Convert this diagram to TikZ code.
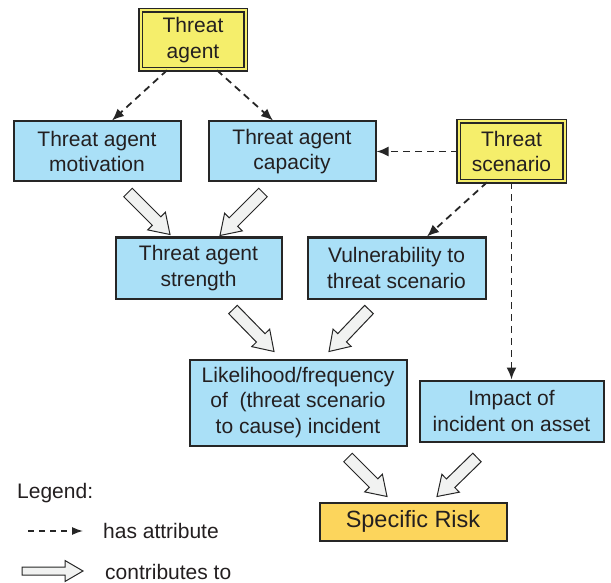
\documentclass[tikz,border=0pt]{standalone}
\usepackage{fontspec}
\setmainfont{Liberation Sans}
\usetikzlibrary{calc,arrows.meta}
\definecolor{boxblue}{HTML}{AAE0F7}
\definecolor{agentyellow}{HTML}{F5EE6B}
\definecolor{riskgold}{HTML}{FCD55C}
\definecolor{linegray}{HTML}{262626}
\definecolor{arrowfill}{HTML}{F1F2F1}
\definecolor{txt}{HTML}{231F20}
\newcommand\blockarrow[5]{%
  \coordinate (ba-n) at ($(#2)!#5pt!(#1)$);
  \draw[blockstyle] ($(#1)!#3pt!90:(#2)$) -- ($(ba-n)!#3pt!90:(#2)$) -- ($(ba-n)!#4pt!90:(#2)$) -- (#2) -- ($(ba-n)!#4pt!-90:(#2)$) -- ($(ba-n)!#3pt!-90:(#2)$) -- ($(#1)!#3pt!-90:(#2)$) -- cycle;}
\tikzset{
  basefont/.style={font=\fontsize{21}{25.5}\selectfont, text=txt},
  box/.style={basefont, draw=linegray, line width=2pt, fill=boxblue, align=center, inner sep=0pt},
  dbox/.style={basefont, draw=linegray, double=agentyellow, double distance=2pt, line width=1.6pt, fill=agentyellow, align=center, inner sep=0pt},
  riskbox/.style={draw=linegray, line width=2pt, fill=riskgold, align=center, inner sep=0pt, font=\fontsize{23.5}{28}\selectfont, text=txt},
  attr/.style={draw=linegray, line width=1.8pt, dash pattern=on 7pt off 5pt, -{Latex[length=12pt,width=10pt]}},
  blockstyle/.style={draw=linegray, line width=1pt, fill=arrowfill, line join=miter},
  legtext/.style={basefont, anchor=west, inner sep=0pt}
}
\begin{document}
\begin{tikzpicture}[x=1pt, y=-1pt]
\useasboundingbox (0,0) rectangle (611,583);
% nodes
\node[dbox, minimum width=105, minimum height=59] (agent) at (193,40) {Threat\\agent};
\node[box, minimum width=167, minimum height=60] (mot) at (97,151.5) {Threat agent\\motivation};
\node[box, minimum width=167, minimum height=60] (cap) at (292,151.5) {Threat agent\\capacity};
\node[dbox, minimum width=106, minimum height=60] (scen) at (511.5,151.5) {Threat\\scenario};
\node[box, minimum width=166, minimum height=61] (str) at (198.5,268) {Threat agent\\strength};
\node[box, minimum width=178, minimum height=61] (vul) at (396.5,268) {Vulnerability to\\threat scenario};
\node[box, minimum width=217, minimum height=86] (lik) at (298,402.5) {Likelihood/frequency\\of\ \ (threat scenario\\to cause) incident};
\node[box, minimum width=184, minimum height=61] (imp) at (511.5,411) {Impact of\\incident on asset};
\node[riskbox, minimum width=187, minimum height=38] (risk) at (413,521.5) {Specific Risk};
% dashed "has attribute" arrows
\draw[attr] ([xshift=-26pt]agent.south) -- ([xshift=15pt]mot.north);
\draw[attr] ([xshift=24pt]agent.south) -- ([xshift=-19pt]cap.north);
\draw[attr] (scen.west) -- (cap.east);
\draw[attr] ([xshift=-24.5pt]scen.south) -- ([xshift=30.5pt]vul.north);
\draw[attr] (scen.south) -- (imp.north);
% block arrows
\coordinate (t1) at ([shift={(31,10)}]mot.south);
\coordinate (h1) at ([shift={(-28.5,-2)}]str.north);
\coordinate (t2) at ([shift={(-29,10)}]cap.south);
\coordinate (h2) at ([shift={(21.5,-1)}]str.north);
\coordinate (t3) at ([shift={(34.5,10)}]str.south);
\coordinate (h3) at ([shift={(-24,-7)}]lik.north);
\coordinate (t4) at ([shift={(-27.5,10)}]vul.south);
\coordinate (h4) at ([shift={(31,-7)}]lik.north);
\coordinate (t5) at ([shift={(50,11)}]lik.south);
\coordinate (h5) at ([shift={(-26,-5)}]risk.north);
\coordinate (t6) at ([shift={(-34.5,15)}]imp.south);
\coordinate (h6) at ([shift={(24,-5)}]risk.north);
\blockarrow{t1}{h1}{6}{12.5}{19}
\blockarrow{t2}{h2}{6}{12.5}{19}
\blockarrow{t3}{h3}{6}{12.5}{19}
\blockarrow{t4}{h4}{6}{12.5}{19}
\blockarrow{t5}{h5}{6}{12.5}{19}
\blockarrow{t6}{h6}{6}{12.5}{19}
% legend
\node[legtext] (leg) at (17,493) {Legend:};
\coordinate (la1) at (28,531);
\coordinate (la2) at (83,531);
\draw[draw=linegray, line width=1.4pt, dash pattern=on 6pt off 5pt, -{Latex[length=11pt,width=8pt]}] (la1) -- (la2);
\node[legtext] (hasattr) at (103,531) {has attribute};
\coordinate (lb1) at (22,571);
\coordinate (lb2) at (83,571);
\blockarrow{lb1}{lb2}{4}{10.5}{18}
\node[legtext] (contrib) at (105,572) {contributes to};
\end{tikzpicture}
\end{document}
